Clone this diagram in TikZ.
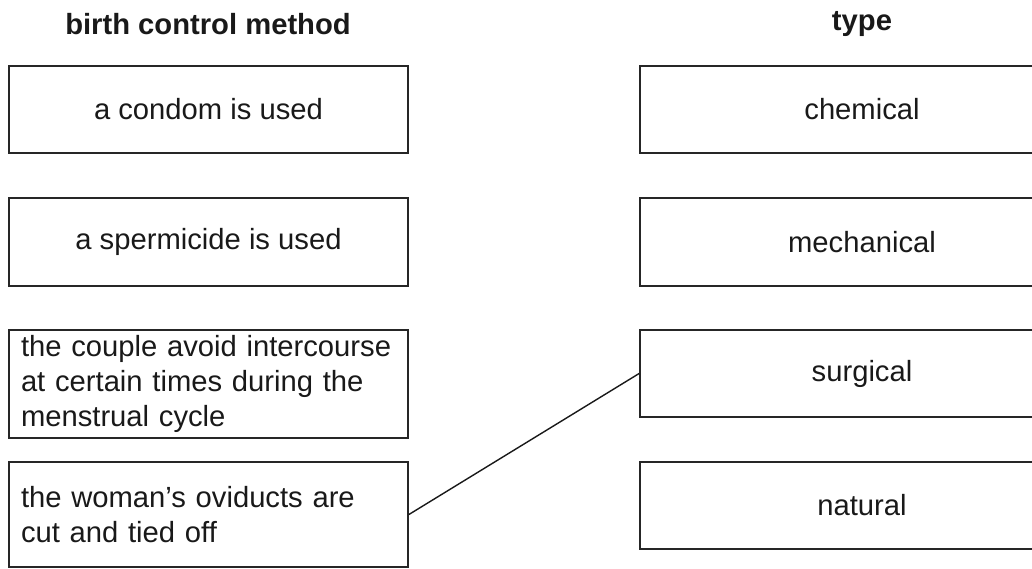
\documentclass[tikz,border=0pt]{standalone}
\usepackage{fontspec}
\setmainfont{Liberation Sans}
\begin{document}
\begin{tikzpicture}[x=0.5pt,y=-0.5pt,
  head/.style={text=black!90,font=\fontsize{14.6}{17.5}\selectfont\bfseries},
  box/.style={draw=black!85,line width=0.9pt,text=black!90,inner xsep=6pt,inner ysep=1pt,
    minimum width=199.5pt,font=\fontsize{14.6}{17.5}\selectfont},
  typebox/.style={box,minimum width=222pt,minimum height=43.5pt}]
\useasboundingbox (0,0) rectangle (1032,568);
\clip (0,0) rectangle (1032,568);
% headings
\node[head] (hmethod) at (208,24) {birth control method};
\node[head] (htype) at (862,24) {type};
% methods
\node[box,minimum height=43.5pt] (m1) at (208.5,109.5) {a condom is used};
\node[box,minimum height=44pt] (m2) at (208.5,242) {a spermicide is used};
\node[box,minimum height=54pt,text width=187.5pt,align=left] (m3) at (208.5,384)
  {the couple avoid intercourse\\at certain times during the\\menstrual cycle};
\node[box,minimum height=52.5pt,text width=187.5pt,align=left] (m4) at (208.5,514.5)
  {the woman’s oviducts are\\cut and tied off};
% types
\node[typebox] (t1) at (862,109.5) {chemical};
\node[typebox,minimum height=44pt] (t2) at (862,242) {mechanical};
\node[typebox] (t3) at (862,373.5) {surgical};
\node[typebox] (t4) at (862,505.5) {natural};
% answer
\draw[line width=0.7pt,black!90] (m4.east) -- (t3.west);
\end{tikzpicture}
\end{document}
